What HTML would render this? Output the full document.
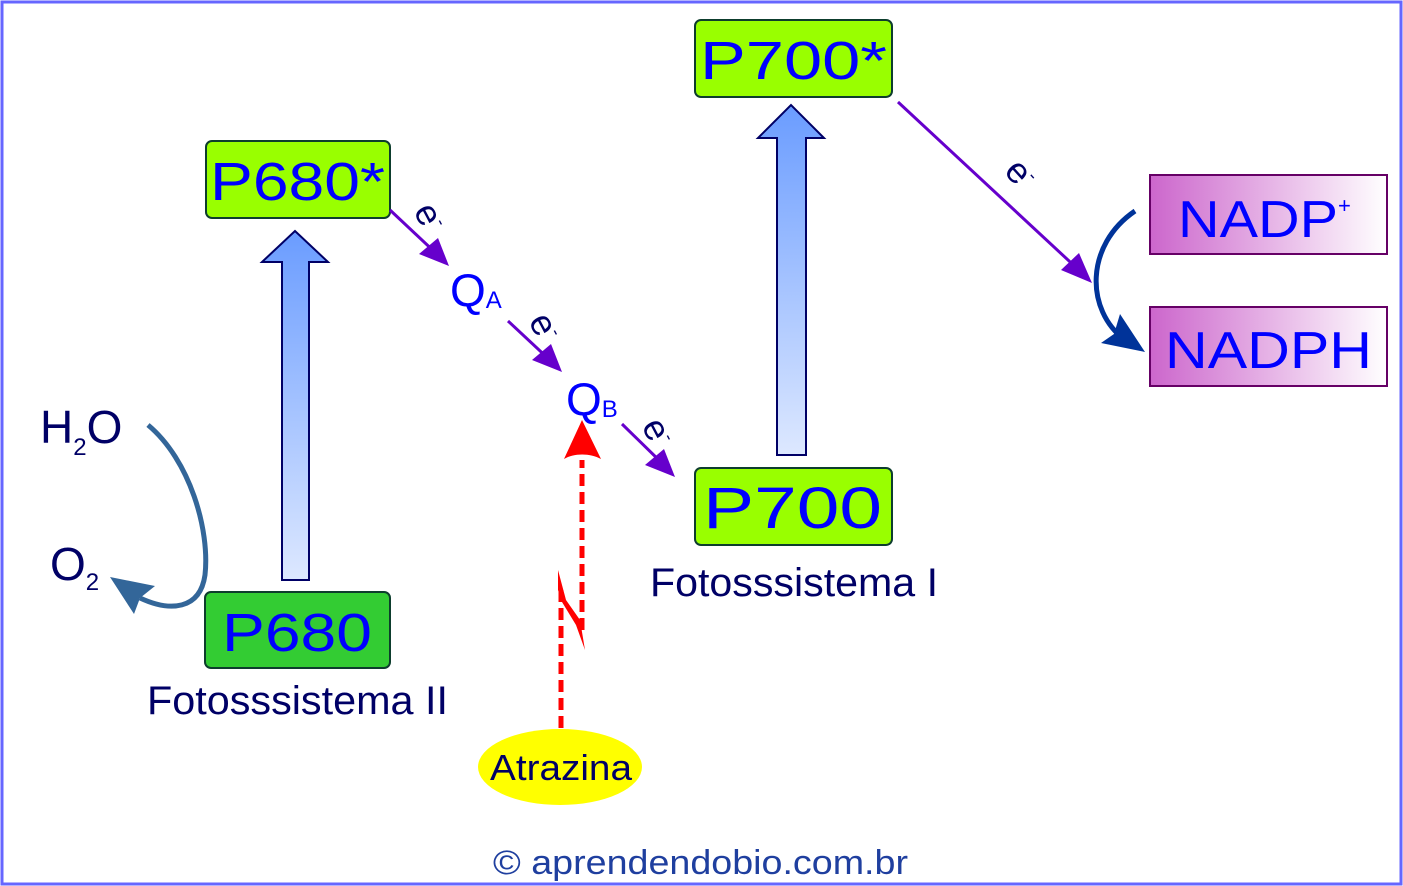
<!DOCTYPE html>
<html><head><meta charset="utf-8"><style>
html,body{margin:0;padding:0;background:#fff}
svg{display:block}
text{font-family:"Liberation Sans",sans-serif}
</style></head><body>
<svg width="1403" height="886" viewBox="0 0 1403 886" xmlns="http://www.w3.org/2000/svg">
<defs>
<linearGradient id="bl" x1="0" y1="0" x2="0" y2="1">
<stop offset="0" stop-color="#6a9cff"/><stop offset="1" stop-color="#dde8ff"/></linearGradient>
<linearGradient id="pu" x1="0" y1="0" x2="1" y2="0">
<stop offset="0" stop-color="#cc66cc"/><stop offset="1" stop-color="#ffffff"/></linearGradient>
</defs>
<rect x="2" y="2" width="1399" height="882" fill="#fff" stroke="#6666ff" stroke-width="3"/>

<path d="M282,580 L282,262 L262,262 L295,231 L328,262 L309,262 L309,580 Z" fill="url(#bl)" stroke="#000066" stroke-width="2"/>
<path d="M777,455 L777,138 L758,138 L791,105 L824,138 L806,138 L806,455 Z" fill="url(#bl)" stroke="#000066" stroke-width="2"/>

<rect x="206" y="141" width="184" height="77" rx="6" fill="#99ff00" stroke="#0d3d2d" stroke-width="2"/>
<text x="210" y="200" font-size="54" fill="#0000ff" textLength="175" lengthAdjust="spacingAndGlyphs">P680*</text>
<rect x="205" y="592" width="185" height="76" rx="6" fill="#33cc33" stroke="#0d3d2d" stroke-width="2"/>
<text x="222" y="651" font-size="54" fill="#0000ff" textLength="150" lengthAdjust="spacingAndGlyphs">P680</text>
<rect x="695" y="20" width="197" height="77" rx="6" fill="#99ff00" stroke="#0d3d2d" stroke-width="2"/>
<text x="700" y="79" font-size="54" fill="#0000ff" textLength="187" lengthAdjust="spacingAndGlyphs">P700*</text>
<rect x="695" y="468" width="197" height="77" rx="6" fill="#99ff00" stroke="#0d3d2d" stroke-width="2"/>
<text x="703" y="528" font-size="58" fill="#0000ff" textLength="179" lengthAdjust="spacingAndGlyphs">P700</text>
<rect x="1150" y="175" width="237" height="79" fill="url(#pu)" stroke="#660066" stroke-width="2"/>
<text x="1178" y="237" font-size="52" fill="#0000ff"><tspan textLength="160" lengthAdjust="spacingAndGlyphs">NADP</tspan><tspan font-size="22" dy="-24">+</tspan></text>
<rect x="1150" y="307" width="237" height="79" fill="url(#pu)" stroke="#660066" stroke-width="2"/>
<text x="1165" y="368" font-size="52" fill="#0000ff" textLength="207" lengthAdjust="spacingAndGlyphs">NADPH</text>

<text x="147" y="714" font-size="40" fill="#000066" textLength="301" lengthAdjust="spacingAndGlyphs">Fotosssistema II</text>
<text x="650" y="596" font-size="40" fill="#000066" textLength="288" lengthAdjust="spacingAndGlyphs">Fotosssistema I</text>

<g stroke="#6600cc" stroke-width="3" fill="none">
<line x1="390" y1="210" x2="440" y2="257"/>
<line x1="508" y1="321" x2="553" y2="363"/>
<line x1="622" y1="424" x2="666" y2="467"/>
<line x1="898" y1="102" x2="1082" y2="273"/>
</g>
<path d="M449,266 L419,254 L438,238 Z" fill="#6600cc"/>
<path d="M562,372 L532,360 L551,344 Z" fill="#6600cc"/>
<path d="M675,477 L645,465 L664,449 Z" fill="#6600cc"/>
<path d="M1092,283 L1061,270 L1079,253 Z" fill="#6600cc"/>

<g font-size="36" fill="#000066">
<text transform="translate(413,211) rotate(62)">e<tspan font-size="18" dy="-14">-</tspan></text>
<text transform="translate(528,321) rotate(62)">e<tspan font-size="18" dy="-14">-</tspan></text>
<text transform="translate(641,426) rotate(62)">e<tspan font-size="18" dy="-14">-</tspan></text>
<text transform="translate(1003,172) rotate(48)">e<tspan font-size="18" dy="-14">-</tspan></text>
</g>

<text x="450" y="306" font-size="46" fill="#0000ff">Q<tspan font-size="24" dy="2">A</tspan></text>
<text x="566" y="415" font-size="46" fill="#0000ff">Q<tspan font-size="24" dy="2">B</tspan></text>

<text x="40" y="443" font-size="46" fill="#000066">H<tspan font-size="24" dy="12">2</tspan><tspan dy="-12">O</tspan></text>
<text x="50" y="580" font-size="46" fill="#000066">O<tspan font-size="24" dy="10">2</tspan></text>
<path d="M148,425 C190,460 210,530 205,575 C200,610 170,612 140,598" fill="none" stroke="#336699" stroke-width="5"/>
<path d="M110,577 L155,586 L140,598 L134,614 Z" fill="#336699"/>

<path d="M1135,211 C1085,245 1085,310 1125,340" fill="none" stroke="#003399" stroke-width="5"/>
<path d="M1145,352 L1101,343 L1114,334 L1120,314 Z" fill="#003399"/>

<path d="M582,630 L582,460" stroke="#ff0000" stroke-width="5" stroke-dasharray="12,6" fill="none"/>
<path d="M582,420 L601,459 C590,453 574,453 564,459 Z" fill="#ff0000"/>
<path d="M561,728 L561,590" stroke="#ff0000" stroke-width="5" stroke-dasharray="12,6" fill="none"/>
<path d="M558,570 L566,600 L580,620 L585,650 L576,625 L562,602 L558,590 Z" fill="#ff0000"/>

<ellipse cx="560" cy="767" rx="82" ry="38" fill="#ffff00"/>
<text x="490" y="780" font-size="36" fill="#000066" textLength="142" lengthAdjust="spacingAndGlyphs">Atrazina</text>

<text x="493" y="874" font-size="34" fill="#1f3f9f" textLength="415" lengthAdjust="spacingAndGlyphs">© aprendendobio.com.br</text>
</svg>
</body></html>
